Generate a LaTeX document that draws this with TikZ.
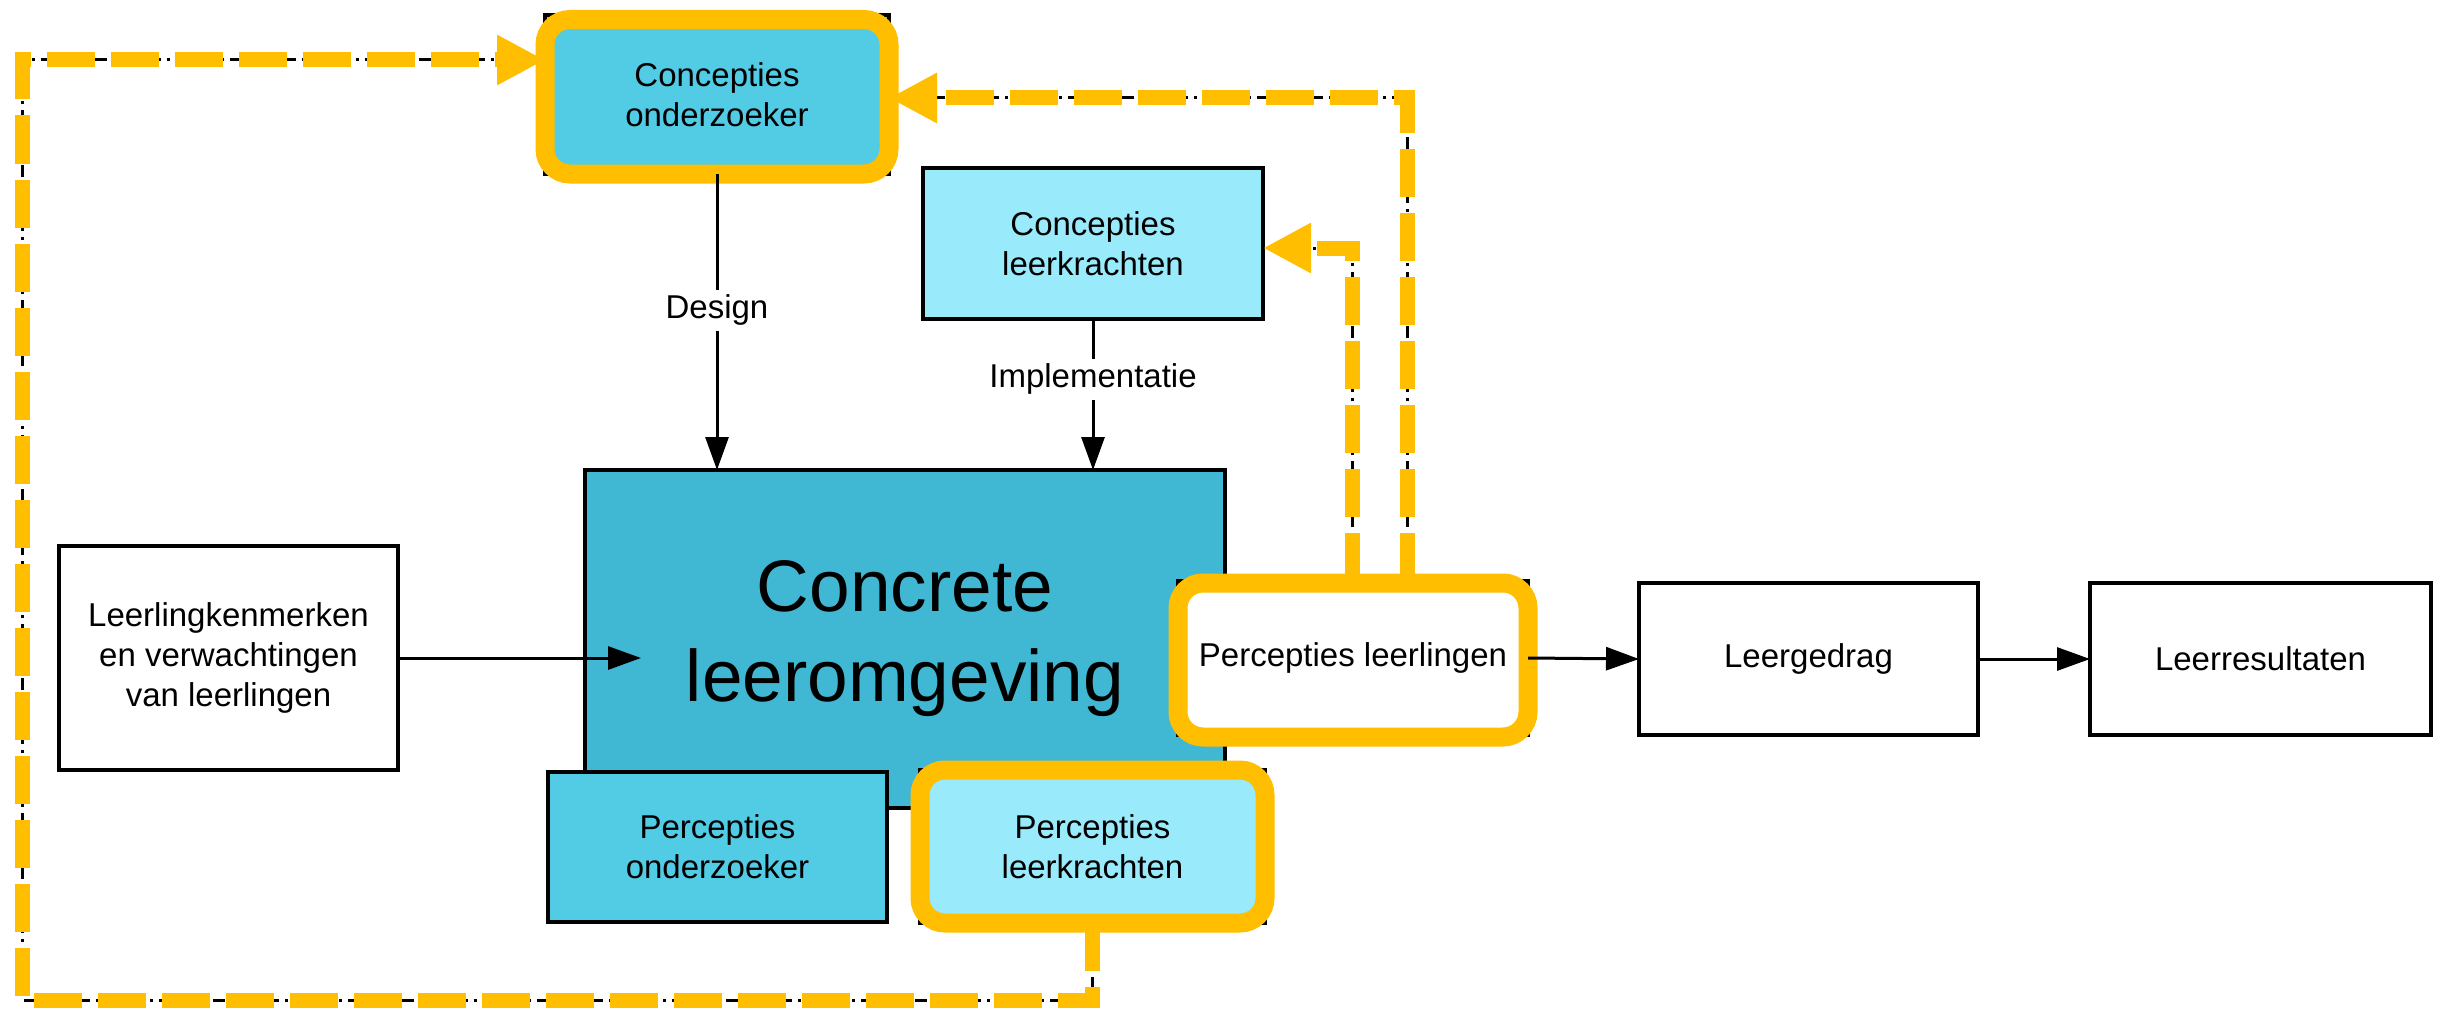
\documentclass[tikz,border=0pt]{standalone}
\usepackage{fontspec}
\setmainfont{Liberation Sans}
\usetikzlibrary{arrows.meta,calc}
\definecolor{orng}{HTML}{FFBE00}
\definecolor{cdark}{HTML}{41B8D3}
\definecolor{cmid}{HTML}{52CBE4}
\definecolor{clight}{HTML}{99EBFC}
\begin{document}
\begin{tikzpicture}[x=1pt,y=-1pt,
  box/.style={draw=black, line width=3.5pt, inner sep=0pt, outer sep=0pt, align=center,
    font=\fontsize{33}{40}\selectfont},
  hl/.style={draw=orng, line width=19pt, rounded corners=25pt},
  arr/.style={draw=black, line width=3pt, -{Triangle[length=33pt,width=23pt]}},
  lab/.style={fill=white, inner sep=5pt, font=\fontsize{33}{40}\selectfont},
  fbu/.style={draw=black, line width=3pt, dash pattern=on 12pt off 6pt on 3pt off 6pt, shorten >=30pt},
  fbo/.style={draw=orng, line width=15pt, dash pattern=on 48pt off 16pt, -{Triangle[length=48pt,width=47pt]}},
]
\fill[white] (0,0) rectangle (2440,1014);
\useasboundingbox (0,0) rectangle (2440,1014);

% main block
\node[box, fill=cdark, minimum width=640pt, minimum height=338pt,
  font=\fontsize{73}{90}\selectfont] (conc) at (905,639) {Concrete\\leeromgeving};

% perception boxes under / beside it
\node[box, fill=cmid, minimum width=339pt, minimum height=150pt] (po) at (717.5,847) {Percepties\\onderzoeker};
\node[box, fill=clight, minimum width=345pt, minimum height=153pt] (plk) at (1092.5,846.5) {Percepties\\leerkrachten};
\draw[hl] (plk.north west) rectangle (plk.south east);
\node[box, fill=white, minimum width=350pt, minimum height=154pt] (pl) at (1353,658) {Percepties leerlingen};
\draw[hl] ([yshift=-2pt]pl.north west) rectangle ([yshift=-2pt]pl.south east);

% conceptions
\node[box, fill=cmid, minimum width=344pt, minimum height=159pt] (co) at (717,94.5) {Concepties\\onderzoeker};
\draw[hl] ([yshift=-4.5pt]co.north west) rectangle (co.south east);
\node[box, fill=clight, minimum width=340pt, minimum height=151pt] (ck) at (1093,243.5) {Concepties\\leerkrachten};

% other boxes
\node[box, fill=white, minimum width=339pt, minimum height=224pt] (lk) at (228.5,658) {Leerlingkenmerken\\en verwachtingen\\van leerlingen};
\node[box, fill=white, minimum width=339pt, minimum height=152pt] (lg) at (1808.5,659) {Leergedrag};
\node[box, fill=white, minimum width=341pt, minimum height=152pt] (lr) at (2260.5,659) {Leerresultaten};

% black arrows
\coordinate (ct) at (641,658);
\draw[arr] (co.south) -- (co.south |- conc.north) node[lab, pos=0.46] (ldes) {Design};
\draw[arr] (ck.south) -- (ck.south |- conc.north) node[lab, pos=0.40] (limp) {Implementatie};
\draw[arr] (lk.east) -- (ct);
\draw[arr] (pl.east) -- (lg.west);
\draw[arr] (lg.east) -- (lr.west);

% feedback connectors
\coordinate (lb) at (22,1000);
\draw[fbu] (plk.south) |- (lb) |- ([yshift=34.5pt]co.west);
\draw[fbo] (plk.south) |- (lb) |- ([yshift=34.5pt]co.west);
\draw[fbu] ([xshift=54pt]pl.north) |- ([yshift=-3.5pt]co.east);
\draw[fbo] ([xshift=54pt]pl.north) |- ([yshift=-3.5pt]co.east);
\draw[fbu] ([xshift=-1pt]pl.north) |- ([yshift=-4.5pt]ck.east);
\draw[fbo] ([xshift=-1pt]pl.north) |- ([yshift=-4.5pt]ck.east);
\end{tikzpicture}
\end{document}
